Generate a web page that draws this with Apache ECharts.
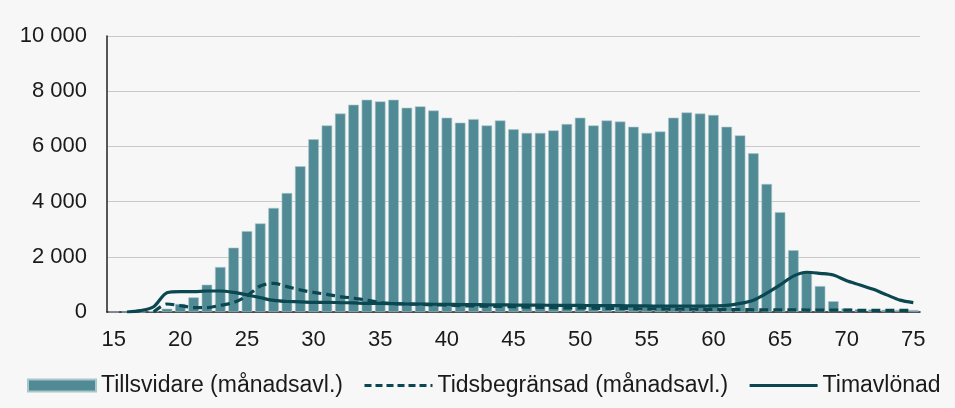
<!DOCTYPE html>
<html>
<head>
<meta charset="utf-8">
<script src="https://cdn.jsdelivr.net/npm/echarts@6/dist/echarts.min.js"></script>
<style>
  html, body { margin: 0; padding: 0; background: #f7f7f7; }
  #chart { width: 955px; height: 408px; }
</style>
</head>
<body>
<div id="chart"></div>
<script>
// ålder 15..75
const ages = []
for (let a = 15; a <= 75; a++) ages.push(String(a))

const tillsvidare = [
  0, 0, 0, 30, 120, 290, 530, 990, 1630, 2330,
  2930, 3210, 3770, 4310, 5280, 6260, 6760, 7190, 7510, 7690,
  7630, 7690, 7400, 7450, 7300, 7040, 6860, 6990, 6760, 6940,
  6620, 6490, 6490, 6580, 6810, 7040, 6760, 6940, 6900, 6710,
  6490, 6540, 7040, 7230, 7190, 7140, 6710, 6400, 5750, 4640,
  3620, 2240, 1460, 940, 390, 130, 100, 90, 80, 70,
  70
]

const tidsbegransad = [
  null, null, null, 0, 290, 230, 160, 160, 240, 340,
  580, 940, 1040, 920, 800, 710, 640, 560, 500, 430,
  340, 310, 290, 280, 260, 250, 230, 220, 210, 200,
  190, 180, 170, 160, 150, 150, 140, 130, 130, 120,
  110, 110, 100, 100, 100, 90, 90, 90, 80, 80,
  80, 80, 70, 70, 70, 70, 60, 60, 60, 60,
  60
]

const timavlonad = [
  null, 0, 50, 190, 700, 740, 740, 760, 760, 710,
  620, 520, 420, 380, 370, 350, 350, 340, 330, 310,
  310, 300, 290, 290, 280, 280, 270, 270, 260, 260,
  250, 250, 250, 240, 240, 240, 230, 230, 230, 220,
  220, 210, 210, 210, 210, 220, 240, 310, 430, 680,
  980, 1300, 1440, 1400, 1340, 1130, 980, 820, 620, 430,
  340
]

const fmt = v => String(v).replace(/\B(?=(\d{3})+(?!\d))/g, ' ')

const myChart = echarts.init(document.getElementById('chart'))
const option = {
  backgroundColor: '#f7f7f7',
  animation: false,
  textStyle: { fontFamily: 'Liberation Sans, Arial, sans-serif' },
  grid: {
    left: 107,
    right: 35,
    top: 36,
    bottom: 96
  },
  legend: {
    bottom: 6,
    left: 22,
    itemWidth: 68,
    itemHeight: 12,
    itemGap: 20,
    textStyle: { fontSize: 23, color: '#1a1a1a' },
    data: [
      { name: 'Tillsvidare (månadsavl.)', icon: 'rect' },
      {
        name: 'Tidsbegränsad (månadsavl.)',
        itemStyle: { opacity: 0 },
        lineStyle: { width: 3, type: [7, 4] }
      },
      {
        name: 'Timavlönad',
        itemStyle: { opacity: 0 },
        lineStyle: { width: 3 }
      }
    ]
  },
  xAxis: {
    type: 'category',
    data: ages,
    axisLine: { lineStyle: { color: '#222', width: 1.5 } },
    axisTick: { show: false },
    axisLabel: {
      interval: 4,
      fontSize: 22,
      color: '#1a1a1a',
      margin: 17
    }
  },
  yAxis: {
    type: 'value',
    min: 0,
    max: 10000,
    interval: 2000,
    axisLine: { show: true, lineStyle: { color: '#222', width: 1.5 } },
    axisTick: { show: false },
    splitLine: { lineStyle: { color: '#c9c9c9', width: 1 } },
    axisLabel: {
      fontSize: 22,
      color: '#1a1a1a',
      margin: 20,
      formatter: fmt
    }
  },
  series: [
    {
      name: 'Tillsvidare (månadsavl.)',
      type: 'bar',
      data: tillsvidare,
      barCategoryGap: '21%',
      itemStyle: { color: '#508b95', borderColor: '#a9c6cb', borderWidth: 0.6 }
    },
    {
      name: 'Tidsbegränsad (månadsavl.)',
      type: 'line',
      data: tidsbegransad,
      smooth: 0.3,
      symbol: 'none',
      z: 3,
      itemStyle: { color: '#0b4750' },
      lineStyle: { color: '#0b4750', width: 3.2, type: [9, 5] }
    },
    {
      name: 'Timavlönad',
      type: 'line',
      data: timavlonad,
      smooth: 0.3,
      symbol: 'none',
      z: 4,
      itemStyle: { color: '#0b4750' },
      lineStyle: { color: '#0b4750', width: 3.2 }
    }
  ]
}
myChart.setOption(option)
</script>
</body>
</html>
